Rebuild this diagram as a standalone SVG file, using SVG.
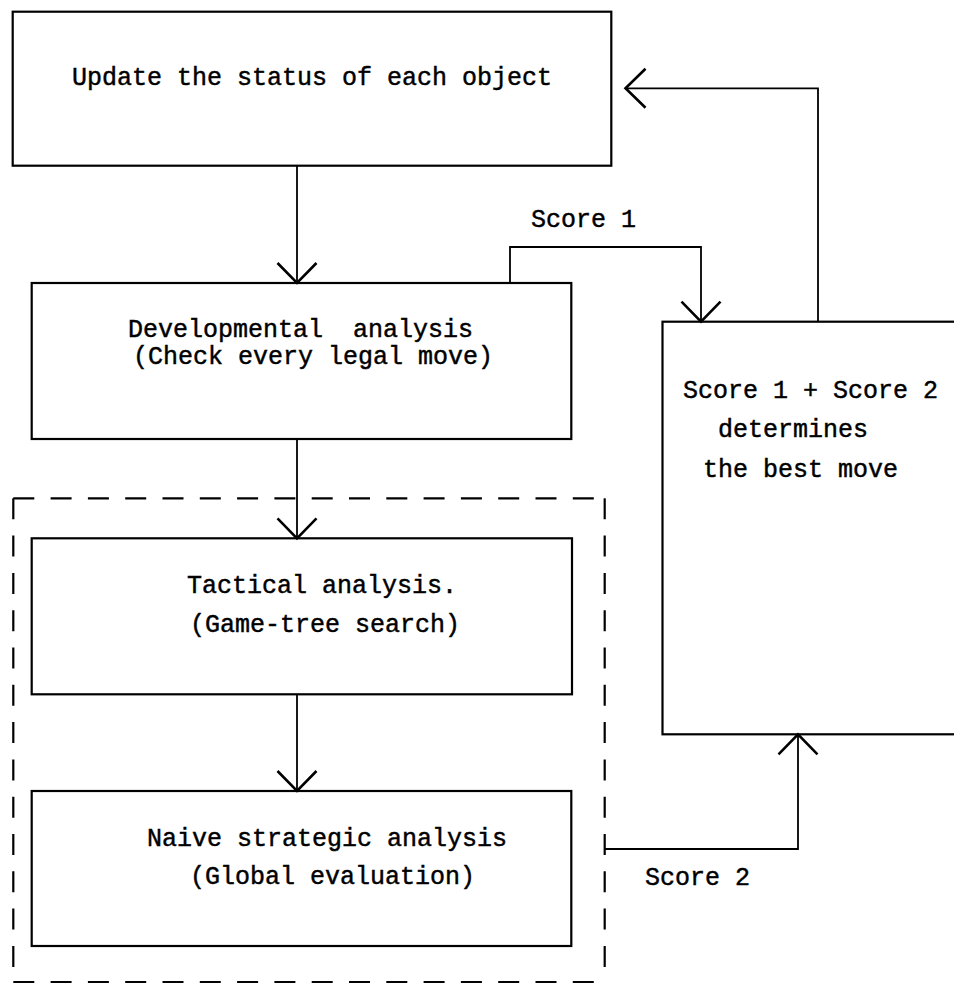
<svg xmlns="http://www.w3.org/2000/svg" width="954" height="986" viewBox="0 0 954 986">
<style>
.box{fill:none;stroke:#000;stroke-width:2.2}
.con{fill:none;stroke:#000;stroke-width:1.8}
.dash{fill:none;stroke:#000;stroke-width:2.2;stroke-dasharray:21 16.3}
text{font-family:"Liberation Mono","Courier New",monospace;font-size:25px;fill:#000;stroke:#000;stroke-width:0.45;white-space:pre}
</style>
<defs>
<marker id="ah" viewBox="-24 -24 28 48" refX="0" refY="0" markerWidth="28" markerHeight="48" markerUnits="userSpaceOnUse" orient="auto" overflow="visible">
<path d="M-20,-19.5 L0,0 L-20,19.5" fill="none" stroke="#000" stroke-width="2.6"/>
</marker>
</defs>
<rect width="954" height="986" fill="#fff"/>

<g id="group-dashed">
<path class="dash" d="M13.3,498.3 H604.7"/>
<path class="dash" d="M604.7,498.3 V982"/>
<path class="dash" d="M13.3,498.3 V982"/>
<path class="dash" d="M13.3,982 H604.7"/>
</g>

<g id="node-update">
<rect class="box" x="12.7" y="11.7" width="598.6" height="154"/>
<text x="72" y="85">Update the status of each object</text>
</g>

<g id="node-developmental">
<rect class="box" x="31.7" y="283" width="539.6" height="156"/>
<text x="128" y="337" xml:space="preserve">Developmental  analysis</text>
<text x="133" y="364">(Check every legal move)</text>
</g>

<g id="node-tactical">
<rect class="box" x="31.7" y="538.3" width="540.3" height="156"/>
<text x="187" y="593">Tactical analysis.</text>
<text x="190" y="632">(Game-tree search)</text>
</g>

<g id="node-strategic">
<rect class="box" x="31.7" y="791" width="539.6" height="155"/>
<text x="147" y="846">Naive strategic analysis</text>
<text x="190" y="884">(Global evaluation)</text>
</g>

<g id="node-best">
<rect class="box" x="662.5" y="321.7" width="320" height="412.6"/>
<text x="683" y="398">Score 1 + Score 2</text>
<text x="718" y="437">determines</text>
<text x="703" y="477">the best move</text>
</g>

<g id="connectors">
<path class="con" d="M297,166 V283" marker-end="url(#ah)"/>
<path class="con" d="M297,439 V538.3" marker-end="url(#ah)"/>
<path class="con" d="M297,694.3 V791" marker-end="url(#ah)"/>
<path class="con" d="M510,283 V247 H701 V321.7" marker-end="url(#ah)"/>
<path class="con" d="M605,849 H798 V734.3" marker-end="url(#ah)"/>
<path class="con" d="M818,321.7 V88.3 H625.5" marker-end="url(#ah)"/>
<text x="531" y="227">Score 1</text>
<text x="645" y="885">Score 2</text>
</g>
</svg>
